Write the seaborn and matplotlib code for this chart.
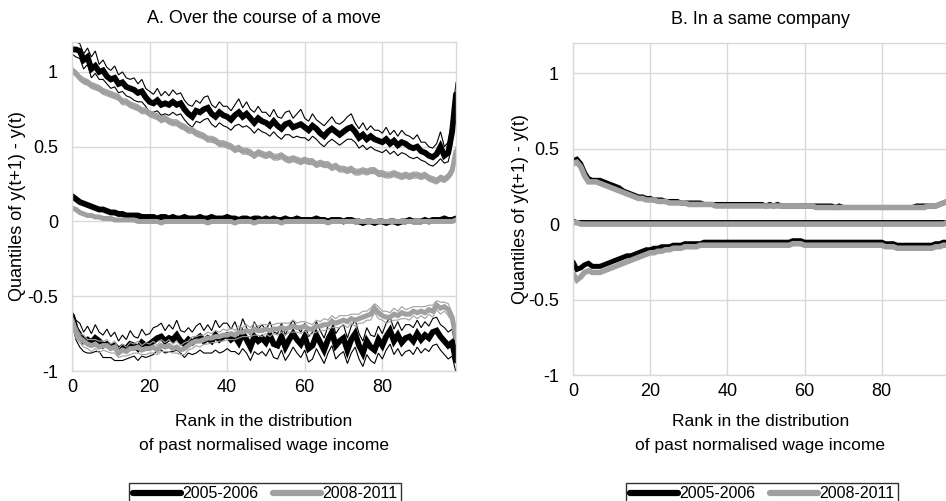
import numpy as np
import pandas as pd
import matplotlib
matplotlib.use("Agg")
import matplotlib.pyplot as plt
import seaborn as sns

# rank in the distribution of past normalised wage income
ranks = list(range(100))
periods = ["2005-2006", "2008-2011"]
panel_titles = ["A. Over the course of a move", "B. In a same company"]
x_label = "Rank in the distribution\nof past normalised wage income"
y_label = "Quantiles of y(t+1) - y(t)"
y_ticks = [-1, -0.5, 0, 0.5, 1]
y_ticklabels = ["-1", "-0.5", "0", "0.5", "1"]
x_ticks = [0, 20, 40, 60, 80]

# ---- Panel A: movers, 2005-2006 (black) ----
a05_top = [1.15, 1.15, 1.14, 1.08, 1.10, 1.02, 1.04, 1.00, 1.01, 0.97,
           0.95, 0.96, 0.92, 0.93, 0.90, 0.89, 0.88, 0.86, 0.87, 0.83,
           0.80, 0.79, 0.81, 0.78, 0.79, 0.78, 0.80, 0.78, 0.79, 0.75,
           0.72, 0.70, 0.74, 0.73, 0.75, 0.76, 0.72, 0.70, 0.73, 0.71,
           0.70, 0.68, 0.71, 0.73, 0.70, 0.72, 0.69, 0.66, 0.69, 0.67,
           0.66, 0.64, 0.67, 0.64, 0.62, 0.65, 0.66, 0.63, 0.64, 0.65,
           0.63, 0.61, 0.64, 0.62, 0.59, 0.57, 0.60, 0.62, 0.60, 0.58,
           0.60, 0.62, 0.63, 0.60, 0.56, 0.58, 0.55, 0.57, 0.55, 0.54,
           0.53, 0.55, 0.52, 0.54, 0.51, 0.53, 0.52, 0.50, 0.49, 0.50,
           0.47, 0.46, 0.44, 0.43, 0.45, 0.50, 0.44, 0.46, 0.60, 0.85]
a05_top_hi = [1.20, 1.20, 1.19, 1.12, 1.16, 1.10, 1.14, 1.05, 1.08, 1.03,
              1.01, 1.04, 0.98, 1.00, 0.96, 0.95, 0.96, 0.92, 0.95, 0.89,
              0.87, 0.85, 0.89, 0.84, 0.87, 0.84, 0.88, 0.85, 0.86, 0.81,
              0.78, 0.77, 0.81, 0.79, 0.83, 0.84, 0.78, 0.76, 0.80, 0.77,
              0.77, 0.74, 0.78, 0.82, 0.76, 0.80, 0.75, 0.73, 0.77, 0.73,
              0.73, 0.70, 0.75, 0.70, 0.69, 0.73, 0.74, 0.69, 0.72, 0.75,
              0.69, 0.67, 0.72, 0.68, 0.66, 0.64, 0.67, 0.70, 0.66, 0.65,
              0.67, 0.70, 0.72, 0.66, 0.62, 0.66, 0.61, 0.64, 0.61, 0.61,
              0.59, 0.63, 0.58, 0.61, 0.57, 0.61, 0.58, 0.57, 0.55, 0.58,
              0.53, 0.53, 0.50, 0.49, 0.52, 0.60, 0.50, 0.53, 0.68, 0.93]
a05_top_lo = [1.12, 1.10, 1.09, 1.02, 1.05, 0.96, 0.99, 0.95, 0.95, 0.92,
              0.89, 0.90, 0.86, 0.87, 0.84, 0.83, 0.81, 0.80, 0.80, 0.77,
              0.73, 0.73, 0.74, 0.71, 0.72, 0.71, 0.73, 0.71, 0.72, 0.68,
              0.65, 0.63, 0.67, 0.66, 0.68, 0.69, 0.65, 0.63, 0.66, 0.64,
              0.63, 0.61, 0.64, 0.65, 0.63, 0.64, 0.62, 0.59, 0.62, 0.60,
              0.59, 0.57, 0.60, 0.57, 0.55, 0.58, 0.58, 0.56, 0.57, 0.56,
              0.56, 0.54, 0.57, 0.55, 0.52, 0.50, 0.53, 0.55, 0.53, 0.51,
              0.53, 0.55, 0.55, 0.53, 0.49, 0.51, 0.48, 0.50, 0.48, 0.47,
              0.46, 0.48, 0.45, 0.47, 0.44, 0.46, 0.45, 0.43, 0.42, 0.43,
              0.41, 0.40, 0.38, 0.37, 0.39, 0.42, 0.39, 0.40, 0.52, 0.77]
a05_med = [0.17, 0.15, 0.13, 0.12, 0.11, 0.10, 0.09, 0.08, 0.08, 0.07,
           0.06, 0.06, 0.05, 0.05, 0.04, 0.04, 0.04, 0.04, 0.03, 0.03,
           0.03, 0.03, 0.02, 0.03, 0.03, 0.02, 0.03, 0.02, 0.02, 0.03,
           0.02, 0.02, 0.02, 0.03, 0.02, 0.02, 0.03, 0.02, 0.02, 0.02,
           0.03, 0.02, 0.02, 0.01, 0.02, 0.02, 0.01, 0.02, 0.02, 0.01,
           0.02, 0.01, 0.02, 0.01, 0.01, 0.02, 0.01, 0.01, 0.02, 0.01,
           0.01, 0.01, 0.01, 0.02, 0.01, 0.01, 0.00, 0.01, 0.01, 0.01,
           0.00, 0.01, 0.01, 0.00, 0.00, -0.01, 0.00, 0.00, -0.01, 0.00,
           0.00, -0.01, 0.00, 0.00, -0.01, 0.00, 0.00, 0.01, 0.00, 0.00,
           0.00, 0.01, 0.00, 0.01, 0.01, 0.01, 0.02, 0.01, 0.01, 0.02]
a05_bot = [-0.63, -0.72, -0.76, -0.80, -0.79, -0.81, -0.78, -0.80, -0.83, -0.82,
           -0.84, -0.83, -0.86, -0.84, -0.85, -0.82, -0.83, -0.85, -0.81, -0.83,
           -0.82, -0.80, -0.78, -0.77, -0.80, -0.78, -0.79, -0.76, -0.80, -0.82,
           -0.79, -0.81, -0.79, -0.77, -0.80, -0.78, -0.80, -0.76, -0.79, -0.77,
           -0.76, -0.79, -0.77, -0.81, -0.75, -0.79, -0.84, -0.77, -0.80, -0.78,
           -0.81, -0.76, -0.82, -0.83, -0.77, -0.84, -0.79, -0.75, -0.79, -0.82,
           -0.77, -0.85, -0.83, -0.76, -0.81, -0.86, -0.79, -0.74, -0.83, -0.80,
           -0.78, -0.86, -0.79, -0.75, -0.83, -0.88, -0.80, -0.84, -0.86, -0.79,
           -0.83, -0.77, -0.73, -0.80, -0.76, -0.81, -0.78, -0.77, -0.80, -0.75,
           -0.79, -0.76, -0.78, -0.74, -0.73, -0.77, -0.80, -0.83, -0.81, -0.93]
a05_bot_hi = [-0.60, -0.66, -0.68, -0.74, -0.70, -0.75, -0.69, -0.74, -0.76, -0.72,
              -0.77, -0.74, -0.80, -0.76, -0.79, -0.73, -0.77, -0.78, -0.72, -0.76,
              -0.75, -0.71, -0.70, -0.68, -0.73, -0.69, -0.72, -0.66, -0.73, -0.74,
              -0.71, -0.74, -0.70, -0.68, -0.73, -0.69, -0.73, -0.66, -0.71, -0.68,
              -0.68, -0.72, -0.67, -0.74, -0.65, -0.71, -0.76, -0.67, -0.72, -0.69,
              -0.73, -0.67, -0.74, -0.75, -0.68, -0.76, -0.70, -0.66, -0.71, -0.74,
              -0.68, -0.77, -0.74, -0.67, -0.73, -0.78, -0.70, -0.65, -0.75, -0.71,
              -0.69, -0.78, -0.70, -0.66, -0.75, -0.80, -0.71, -0.76, -0.77, -0.70,
              -0.75, -0.68, -0.64, -0.72, -0.67, -0.73, -0.69, -0.69, -0.71, -0.66,
              -0.71, -0.67, -0.70, -0.65, -0.64, -0.69, -0.71, -0.74, -0.72, -0.86]
a05_bot_lo = [-0.67, -0.79, -0.84, -0.87, -0.88, -0.88, -0.87, -0.87, -0.91, -0.91,
              -0.91, -0.93, -0.93, -0.93, -0.92, -0.91, -0.90, -0.93, -0.90, -0.91,
              -0.90, -0.89, -0.86, -0.86, -0.88, -0.87, -0.87, -0.86, -0.88, -0.91,
              -0.88, -0.89, -0.88, -0.86, -0.88, -0.88, -0.88, -0.86, -0.88, -0.87,
              -0.85, -0.87, -0.87, -0.89, -0.85, -0.88, -0.93, -0.87, -0.89, -0.87,
              -0.90, -0.85, -0.91, -0.92, -0.86, -0.93, -0.89, -0.84, -0.88, -0.91,
              -0.86, -0.94, -0.92, -0.85, -0.90, -0.95, -0.88, -0.83, -0.92, -0.89,
              -0.87, -0.95, -0.88, -0.84, -0.92, -0.97, -0.89, -0.93, -0.95, -0.88,
              -0.92, -0.86, -0.82, -0.89, -0.85, -0.90, -0.87, -0.86, -0.89, -0.84,
              -0.88, -0.85, -0.87, -0.83, -0.82, -0.86, -0.89, -0.92, -0.90, -1.01]

# ---- Panel A: movers, 2008-2011 (grey) ----
a08_top = [1.01, 0.99, 0.96, 0.94, 0.93, 0.91, 0.90, 0.89, 0.87, 0.86,
           0.85, 0.84, 0.83, 0.80, 0.80, 0.78, 0.77, 0.76, 0.74, 0.74,
           0.72, 0.71, 0.70, 0.68, 0.69, 0.67, 0.66, 0.66, 0.64, 0.63,
           0.61, 0.61, 0.59, 0.58, 0.57, 0.55, 0.55, 0.54, 0.52, 0.52,
           0.51, 0.50, 0.48, 0.49, 0.47, 0.47, 0.46, 0.44, 0.46, 0.45,
           0.44, 0.45, 0.43, 0.43, 0.44, 0.42, 0.41, 0.42, 0.41, 0.40,
           0.41, 0.40, 0.40, 0.38, 0.39, 0.38, 0.38, 0.36, 0.37, 0.35,
           0.35, 0.34, 0.35, 0.33, 0.33, 0.34, 0.33, 0.34, 0.34, 0.32,
           0.32, 0.31, 0.31, 0.32, 0.31, 0.30, 0.31, 0.30, 0.31, 0.31,
           0.30, 0.31, 0.29, 0.28, 0.27, 0.29, 0.28, 0.30, 0.34, 0.47]
a08_top_hi = [1.03, 1.01, 0.98, 0.96, 0.95, 0.93, 0.92, 0.91, 0.89, 0.88,
              0.87, 0.86, 0.85, 0.82, 0.82, 0.80, 0.79, 0.78, 0.76, 0.76,
              0.74, 0.73, 0.72, 0.70, 0.71, 0.69, 0.68, 0.68, 0.66, 0.65,
              0.63, 0.63, 0.61, 0.60, 0.59, 0.57, 0.57, 0.56, 0.54, 0.54,
              0.53, 0.52, 0.50, 0.51, 0.49, 0.49, 0.48, 0.46, 0.48, 0.47,
              0.46, 0.47, 0.45, 0.45, 0.46, 0.44, 0.43, 0.44, 0.43, 0.42,
              0.43, 0.42, 0.42, 0.40, 0.41, 0.40, 0.40, 0.38, 0.39, 0.37,
              0.37, 0.36, 0.37, 0.35, 0.35, 0.36, 0.35, 0.36, 0.36, 0.34,
              0.34, 0.33, 0.33, 0.34, 0.33, 0.32, 0.33, 0.32, 0.33, 0.33,
              0.32, 0.33, 0.31, 0.30, 0.29, 0.31, 0.30, 0.32, 0.37, 0.50]
a08_top_lo = [0.99, 0.97, 0.94, 0.92, 0.91, 0.89, 0.88, 0.87, 0.85, 0.84,
              0.83, 0.82, 0.81, 0.78, 0.78, 0.76, 0.75, 0.74, 0.72, 0.72,
              0.70, 0.69, 0.68, 0.66, 0.67, 0.65, 0.64, 0.64, 0.62, 0.61,
              0.59, 0.59, 0.57, 0.56, 0.55, 0.53, 0.53, 0.52, 0.50, 0.50,
              0.49, 0.48, 0.46, 0.47, 0.45, 0.45, 0.44, 0.42, 0.44, 0.43,
              0.42, 0.43, 0.41, 0.41, 0.42, 0.40, 0.39, 0.40, 0.39, 0.38,
              0.39, 0.38, 0.38, 0.36, 0.37, 0.36, 0.36, 0.34, 0.35, 0.33,
              0.33, 0.32, 0.33, 0.31, 0.31, 0.32, 0.31, 0.32, 0.32, 0.30,
              0.30, 0.29, 0.29, 0.30, 0.29, 0.28, 0.29, 0.28, 0.29, 0.29,
              0.28, 0.29, 0.27, 0.26, 0.25, 0.27, 0.26, 0.28, 0.31, 0.44]
a08_med = [0.09, 0.08, 0.06, 0.05, 0.04, 0.04, 0.03, 0.03, 0.02, 0.02,
           0.02, 0.01, 0.01, 0.01, 0.01, 0.01, 0.01, 0.00, 0.00, 0.00,
           0.00, 0.00, 0.00, -0.01, 0.00, 0.00, 0.00, 0.00, 0.00, 0.00,
           0.00, 0.00, 0.00, 0.00, 0.00, -0.01, 0.00, 0.00, 0.00, 0.00,
           0.00, 0.00, -0.01, 0.00, 0.00, 0.00, 0.00, -0.01, 0.00, 0.00,
           0.00, 0.00, 0.00, 0.00, -0.01, 0.00, 0.00, 0.00, 0.00, 0.00,
           0.00, 0.00, 0.00, 0.00, 0.00, 0.00, -0.01, 0.00, 0.00, 0.00,
           0.00, 0.00, 0.00, 0.00, 0.00, 0.00, 0.00, 0.00, 0.00, 0.00,
           0.00, 0.00, 0.00, 0.00, 0.00, 0.00, 0.00, 0.00, 0.00, 0.00,
           0.00, 0.00, 0.00, 0.00, 0.00, 0.00, 0.00, 0.00, 0.00, 0.01]
a08_bot = [-0.66, -0.74, -0.78, -0.80, -0.82, -0.83, -0.82, -0.84, -0.83, -0.83,
           -0.85, -0.84, -0.88, -0.86, -0.87, -0.85, -0.85, -0.84, -0.86, -0.85,
           -0.85, -0.84, -0.86, -0.83, -0.84, -0.83, -0.85, -0.84, -0.86, -0.85,
           -0.83, -0.81, -0.80, -0.80, -0.79, -0.78, -0.78, -0.77, -0.77, -0.76,
           -0.76, -0.75, -0.76, -0.74, -0.74, -0.73, -0.74, -0.72, -0.73, -0.73,
           -0.72, -0.73, -0.72, -0.72, -0.71, -0.72, -0.71, -0.70, -0.71, -0.71,
           -0.70, -0.72, -0.72, -0.70, -0.70, -0.69, -0.69, -0.67, -0.68, -0.67,
           -0.66, -0.67, -0.65, -0.66, -0.65, -0.64, -0.63, -0.62, -0.58, -0.61,
           -0.63, -0.64, -0.64, -0.62, -0.63, -0.61, -0.62, -0.62, -0.60, -0.61,
           -0.60, -0.61, -0.59, -0.60, -0.56, -0.58, -0.57, -0.59, -0.64, -0.78]
a08_bot_hi = [-0.63, -0.70, -0.75, -0.76, -0.79, -0.79, -0.79, -0.80, -0.80, -0.79,
              -0.82, -0.80, -0.85, -0.82, -0.84, -0.81, -0.82, -0.80, -0.83, -0.81,
              -0.82, -0.80, -0.83, -0.79, -0.81, -0.79, -0.82, -0.80, -0.83, -0.81,
              -0.80, -0.77, -0.77, -0.76, -0.76, -0.74, -0.75, -0.73, -0.74, -0.72,
              -0.73, -0.71, -0.73, -0.70, -0.71, -0.69, -0.71, -0.68, -0.70, -0.69,
              -0.69, -0.69, -0.69, -0.68, -0.68, -0.68, -0.68, -0.66, -0.68, -0.67,
              -0.67, -0.68, -0.69, -0.66, -0.67, -0.65, -0.66, -0.63, -0.65, -0.63,
              -0.63, -0.63, -0.62, -0.62, -0.62, -0.60, -0.60, -0.58, -0.55, -0.57,
              -0.60, -0.60, -0.61, -0.58, -0.60, -0.57, -0.59, -0.58, -0.57, -0.57,
              -0.57, -0.57, -0.56, -0.56, -0.53, -0.54, -0.54, -0.55, -0.61, -0.75]
a08_bot_lo = [-0.69, -0.78, -0.81, -0.84, -0.85, -0.87, -0.85, -0.88, -0.86, -0.87,
              -0.88, -0.88, -0.91, -0.90, -0.90, -0.89, -0.88, -0.88, -0.89, -0.89,
              -0.88, -0.88, -0.89, -0.87, -0.87, -0.87, -0.88, -0.88, -0.89, -0.89,
              -0.86, -0.85, -0.83, -0.84, -0.82, -0.82, -0.81, -0.81, -0.80, -0.80,
              -0.79, -0.79, -0.79, -0.78, -0.77, -0.77, -0.77, -0.76, -0.76, -0.77,
              -0.75, -0.77, -0.75, -0.76, -0.74, -0.76, -0.74, -0.74, -0.74, -0.75,
              -0.73, -0.76, -0.75, -0.74, -0.73, -0.73, -0.72, -0.71, -0.71, -0.71,
              -0.69, -0.71, -0.68, -0.70, -0.68, -0.68, -0.66, -0.66, -0.61, -0.65,
              -0.66, -0.68, -0.67, -0.66, -0.66, -0.65, -0.65, -0.66, -0.63, -0.65,
              -0.63, -0.65, -0.62, -0.64, -0.59, -0.62, -0.60, -0.63, -0.67, -0.81]

# ---- Panel B: stayers ----
b05_top = [0.42, 0.43, 0.40, 0.34, 0.30, 0.29, 0.29, 0.29, 0.28, 0.27,
           0.26, 0.25, 0.24, 0.22, 0.21, 0.20, 0.19, 0.18, 0.18, 0.17,
           0.17, 0.16, 0.16, 0.16, 0.15, 0.15, 0.15, 0.15, 0.14, 0.14,
           0.14, 0.14, 0.14, 0.14, 0.13, 0.13, 0.13, 0.13, 0.13, 0.13,
           0.13, 0.13, 0.13, 0.13, 0.13, 0.13, 0.13, 0.13, 0.13, 0.13,
           0.12, 0.13, 0.12, 0.13, 0.12, 0.12, 0.12, 0.12, 0.12, 0.12,
           0.12, 0.12, 0.12, 0.12, 0.12, 0.12, 0.12, 0.12, 0.11, 0.12,
           0.11, 0.11, 0.11, 0.11, 0.11, 0.11, 0.11, 0.11, 0.11, 0.11,
           0.11, 0.11, 0.11, 0.11, 0.11, 0.11, 0.11, 0.11, 0.11, 0.12,
           0.12, 0.12, 0.12, 0.12, 0.12, 0.13, 0.14, 0.15, 0.17, 0.19]
b05_med = [0.03, 0.02, 0.02, 0.02, 0.02, 0.02, 0.02, 0.02, 0.02, 0.02,
           0.02, 0.02, 0.02, 0.02, 0.02, 0.02, 0.02, 0.02, 0.02, 0.02,
           0.02, 0.02, 0.02, 0.02, 0.02, 0.02, 0.02, 0.02, 0.02, 0.02,
           0.02, 0.02, 0.02, 0.02, 0.02, 0.02, 0.02, 0.02, 0.02, 0.02,
           0.02, 0.02, 0.02, 0.02, 0.02, 0.02, 0.02, 0.02, 0.02, 0.02,
           0.02, 0.02, 0.02, 0.02, 0.02, 0.02, 0.02, 0.02, 0.02, 0.02,
           0.02, 0.02, 0.02, 0.02, 0.02, 0.02, 0.02, 0.02, 0.02, 0.02,
           0.02, 0.02, 0.02, 0.02, 0.02, 0.02, 0.02, 0.02, 0.02, 0.02,
           0.02, 0.02, 0.02, 0.02, 0.02, 0.02, 0.02, 0.02, 0.02, 0.02,
           0.02, 0.02, 0.02, 0.02, 0.02, 0.02, 0.02, 0.02, 0.03, 0.03]
b05_bot = [-0.25, -0.30, -0.29, -0.27, -0.26, -0.28, -0.28, -0.28, -0.27, -0.26,
           -0.25, -0.24, -0.23, -0.22, -0.21, -0.21, -0.20, -0.19, -0.18, -0.17,
           -0.17, -0.16, -0.16, -0.15, -0.15, -0.15, -0.14, -0.14, -0.14, -0.13,
           -0.13, -0.13, -0.13, -0.13, -0.12, -0.12, -0.12, -0.12, -0.12, -0.12,
           -0.12, -0.12, -0.12, -0.12, -0.12, -0.12, -0.12, -0.12, -0.12, -0.12,
           -0.12, -0.12, -0.12, -0.12, -0.12, -0.12, -0.12, -0.11, -0.11, -0.11,
           -0.12, -0.12, -0.12, -0.12, -0.12, -0.12, -0.12, -0.12, -0.12, -0.12,
           -0.12, -0.12, -0.12, -0.12, -0.12, -0.12, -0.12, -0.12, -0.12, -0.12,
           -0.12, -0.13, -0.13, -0.13, -0.14, -0.14, -0.14, -0.14, -0.14, -0.14,
           -0.14, -0.14, -0.14, -0.14, -0.13, -0.13, -0.12, -0.12, -0.12, -0.12]
b08_top = [0.40, 0.41, 0.38, 0.32, 0.28, 0.28, 0.28, 0.27, 0.26, 0.25,
           0.24, 0.23, 0.22, 0.21, 0.20, 0.19, 0.18, 0.17, 0.17, 0.16,
           0.16, 0.16, 0.15, 0.15, 0.15, 0.14, 0.14, 0.14, 0.14, 0.14,
           0.13, 0.13, 0.13, 0.13, 0.13, 0.13, 0.13, 0.12, 0.12, 0.12,
           0.12, 0.12, 0.12, 0.12, 0.12, 0.12, 0.12, 0.12, 0.12, 0.12,
           0.12, 0.12, 0.12, 0.12, 0.12, 0.12, 0.12, 0.12, 0.12, 0.12,
           0.12, 0.12, 0.12, 0.11, 0.11, 0.11, 0.11, 0.11, 0.11, 0.11,
           0.11, 0.11, 0.11, 0.11, 0.11, 0.11, 0.11, 0.11, 0.11, 0.11,
           0.11, 0.11, 0.11, 0.11, 0.11, 0.11, 0.11, 0.11, 0.11, 0.11,
           0.11, 0.11, 0.12, 0.12, 0.12, 0.13, 0.14, 0.15, 0.16, 0.18]
b08_med = [0.01, 0.01, 0.00, 0.00, 0.00, 0.00, 0.00, 0.00, 0.00, 0.00,
           0.00, 0.00, 0.00, 0.00, 0.00, 0.00, 0.00, 0.00, 0.00, 0.00,
           0.00, 0.00, 0.00, 0.00, 0.00, 0.00, 0.00, 0.00, 0.00, 0.00,
           0.00, 0.00, 0.00, 0.00, 0.00, 0.00, 0.00, 0.00, 0.00, 0.00,
           0.00, 0.00, 0.00, 0.00, 0.00, 0.00, 0.00, 0.00, 0.00, 0.00,
           0.00, 0.00, 0.00, 0.00, 0.00, 0.00, 0.00, 0.00, 0.00, 0.00,
           0.00, 0.00, 0.00, 0.00, 0.00, 0.00, 0.00, 0.00, 0.00, 0.00,
           0.00, 0.00, 0.00, 0.00, 0.00, 0.00, 0.00, 0.00, 0.00, 0.00,
           0.00, 0.00, 0.00, 0.00, 0.00, 0.00, 0.00, 0.00, 0.00, 0.00,
           0.00, 0.00, 0.00, 0.00, 0.00, 0.00, 0.00, 0.01, 0.01, 0.01]
b08_bot = [-0.33, -0.37, -0.35, -0.32, -0.31, -0.32, -0.32, -0.32, -0.31, -0.30,
           -0.29, -0.28, -0.27, -0.26, -0.25, -0.24, -0.23, -0.22, -0.21, -0.20,
           -0.19, -0.19, -0.18, -0.18, -0.17, -0.17, -0.16, -0.16, -0.16, -0.15,
           -0.15, -0.15, -0.15, -0.14, -0.14, -0.14, -0.14, -0.14, -0.14, -0.14,
           -0.14, -0.14, -0.14, -0.14, -0.14, -0.14, -0.14, -0.14, -0.14, -0.14,
           -0.14, -0.14, -0.14, -0.14, -0.14, -0.14, -0.14, -0.13, -0.13, -0.13,
           -0.14, -0.14, -0.14, -0.14, -0.14, -0.14, -0.14, -0.14, -0.14, -0.14,
           -0.14, -0.14, -0.14, -0.14, -0.14, -0.14, -0.14, -0.14, -0.14, -0.14,
           -0.14, -0.15, -0.15, -0.15, -0.16, -0.16, -0.16, -0.16, -0.16, -0.16,
           -0.16, -0.16, -0.16, -0.16, -0.15, -0.15, -0.14, -0.14, -0.14, -0.14]

BLACK = "#000000"
GREY = "#a0a0a0"
GRID = "#d9d9d9"

sns.set_style("white")
plt.rcParams["font.family"] = ["Liberation Sans", "DejaVu Sans"]
plt.rcParams["text.color"] = BLACK
plt.rcParams["axes.labelcolor"] = BLACK
plt.rcParams["xtick.labelcolor"] = BLACK
plt.rcParams["ytick.labelcolor"] = BLACK

fig = plt.figure(figsize=(9.46, 5.01), dpi=100)
# panel B runs past the right edge, as in the source picture
ax_a = fig.add_axes([72 / 946, 1 - 371 / 501, 384 / 946, 329 / 501])
ax_b = fig.add_axes([573 / 946, 1 - 375 / 501, 382 / 946, 332 / 501])

panel_a = [
    (a05_top_hi, BLACK, 0.8), (a05_top_lo, BLACK, 0.8),
    (a05_bot_hi, BLACK, 0.8), (a05_bot_lo, BLACK, 0.8),
    (a05_top, BLACK, 4.2), (a05_med, BLACK, 4.2), (a05_bot, BLACK, 4.2),
    (a08_top_hi, GREY, 0.8), (a08_top_lo, GREY, 0.8),
    (a08_bot_hi, GREY, 0.8), (a08_bot_lo, GREY, 0.8),
    (a08_top, GREY, 3.6), (a08_med, GREY, 3.6), (a08_bot, GREY, 3.6),
]
panel_b = [
    (b05_top, BLACK, 3.6), (b05_med, BLACK, 1.5), (b05_bot, BLACK, 3.6),
    (b08_top, GREY, 4.0), (b08_med, GREY, 4.0), (b08_bot, GREY, 4.0),
]

for ax, series, title in [(ax_a, panel_a, panel_titles[0]), (ax_b, panel_b, panel_titles[1])]:
    for vals, col, lw in series:
        sns.lineplot(x=ranks, y=vals, ax=ax, color=col, linewidth=lw,
                     legend=False, solid_joinstyle="miter")
    ax.set_xlim(0, 99)
    ax.set_ylim(-1, 1.2)
    ax.set_xticks(x_ticks)
    ax.set_yticks(y_ticks)
    ax.set_yticklabels(y_ticklabels)
    ax.grid(True, color=GRID, linewidth=1.0)
    ax.set_axisbelow(True)
    for sp in ax.spines.values():
        sp.set_color(GRID)
        sp.set_linewidth(1.0)
    ax.tick_params(axis="y", length=4, color=GRID, labelcolor=BLACK, pad=6, labelsize=13)
    ax.tick_params(axis="x", length=0, labelcolor=BLACK, pad=6, labelsize=13)
    ax.set_title(title, fontsize=13, pad=14, color=BLACK)
    ax.set_xlabel(x_label, fontsize=12.5, linespacing=1.75, color=BLACK)
    ax.set_ylabel(y_label, fontsize=13, color=BLACK)

ax_a.yaxis.set_label_coords(-0.12, 0.5)
ax_b.yaxis.set_label_coords(-0.115, 0.5)
ax_a.xaxis.set_label_coords(0.5, -0.13)
ax_b.xaxis.set_label_coords(0.49, -0.117)
ax_b.title.set_x(0.49)

handles = [plt.Line2D([], [], color=BLACK, linewidth=4.5),
           plt.Line2D([], [], color=GREY, linewidth=4.5)]
for cx in [265 / 946, 762 / 946]:
    fig.legend(handles, periods, loc="upper center", bbox_to_anchor=(cx, 1 - 483 / 501),
               ncol=2, frameon=True, fancybox=False, edgecolor=BLACK,
               fontsize=11.5, handlelength=3.0, handletextpad=0.1,
               columnspacing=0.9, borderpad=0.2, borderaxespad=0,
               labelcolor=BLACK)

fig.savefig("out.png", dpi=100)
